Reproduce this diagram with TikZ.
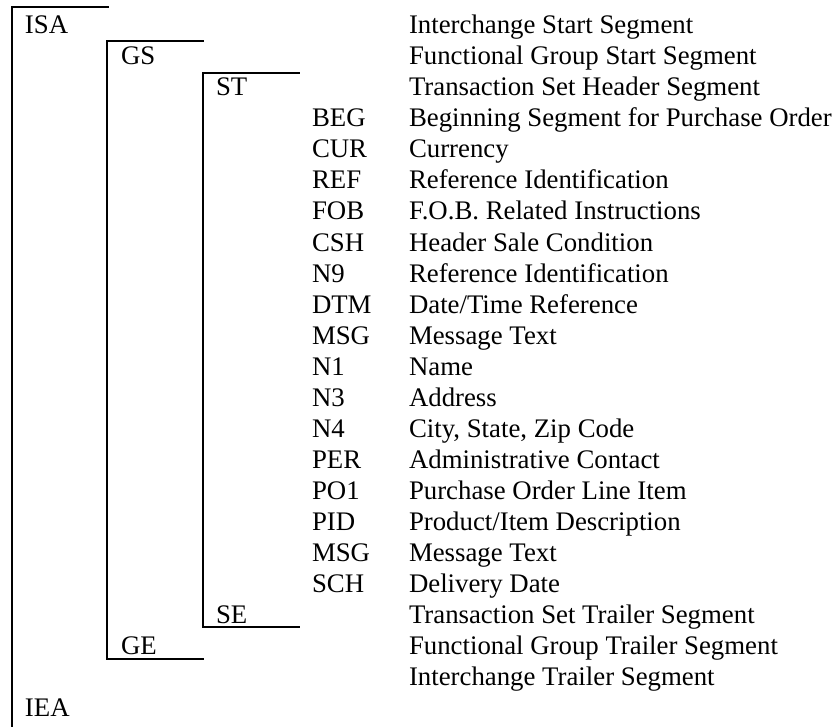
\documentclass[tikz,border=0pt]{standalone}
\usepackage{fontspec}
\setmainfont{Liberation Serif}
\begin{document}
\begin{tikzpicture}[x=0.5pt,y=-0.5pt,
  lbl/.style={anchor=base west,inner sep=0pt,outer sep=0pt,font=\fontsize{13.4}{15}\selectfont},
  bracket/.style={line width=1pt,line cap=rect,line join=miter}]
\useasboundingbox (0,0) rectangle (834,727);
% level labels
\node[lbl] (isa) at (25,34) {ISA};
\node[lbl] (gs) at (121,65) {GS};
\node[lbl] (st) at (216,96) {ST};
\node[lbl] (se) at (216,623) {SE};
\node[lbl] (ge) at (121,654) {GE};
\node[lbl] (iea) at (25,716) {IEA};
% descriptions of envelope segments
\node[lbl] (disa) at (409,34) {Interchange Start Segment};
\node[lbl] (dgs) at (409,65) {Functional Group Start Segment};
\node[lbl] (dst) at (409,96) {Transaction Set Header Segment};
\node[lbl] (dse) at (409,623) {Transaction Set Trailer Segment};
\node[lbl] (dge) at (409,654) {Functional Group Trailer Segment};
\node[lbl] (diea) at (409,685) {Interchange Trailer Segment};
% body segments
\foreach \c/\d [count=\i] in {BEG/Beginning Segment for Purchase Order,
  CUR/Currency, REF/Reference Identification, FOB/F.O.B. Related Instructions,
  CSH/Header Sale Condition, N9/Reference Identification, DTM/Date\slash Time Reference,
  MSG/Message Text, N1/Name, N3/Address, N4/{City, State, Zip Code},
  PER/Administrative Contact, PO1/Purchase Order Line Item,
  PID/Product\slash Item Description, MSG/Message Text, SCH/Delivery Date}{
  \node[lbl] (c\i) at (312,{96+31*\i}) {\c};
  \node[lbl] (d\i) at (409,{96+31*\i}) {\d};
}
% brackets
\coordinate (isaT) at (108,7.5);
\coordinate (isaC) at (11.5,7.5);
\coordinate (isaB) at (11.5,727);
\coordinate (gsT) at (203,41);
\coordinate (gsC) at (107,41);
\coordinate (geC) at (107,659);
\coordinate (geT) at (203,659);
\coordinate (stT) at (299,73);
\coordinate (stC) at (203,73);
\coordinate (seC) at (203,627);
\coordinate (seT) at (299,627);
\draw[bracket] (isaT) -- (isaC) -- (isaB);
\draw[bracket] (gsT) -- (gsC) -- (geC) -- (geT);
\draw[bracket] (stT) -- (stC) -- (seC) -- (seT);
\end{tikzpicture}
\end{document}
